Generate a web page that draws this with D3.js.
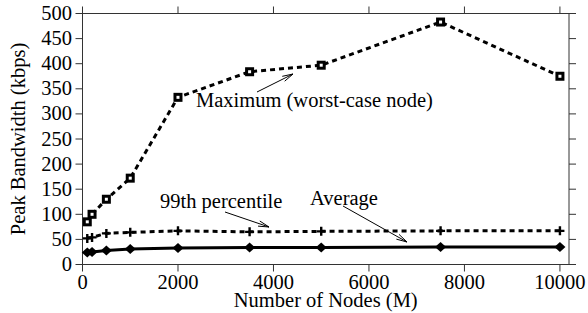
<!DOCTYPE html>
<html><head><meta charset="utf-8">
<script src="https://cdn.jsdelivr.net/npm/d3@7"></script>
<style>body{margin:0;background:#fff}svg{display:block}svg text{font-family:"Liberation Serif",serif !important}</style>
</head><body><svg id="c" width="588" height="313" style="font-family:'Liberation Serif',serif"></svg>
<script>
const nodes = [100, 200, 500, 1000, 2000, 3500, 5000, 7500, 10000];
const maxBw = [85, 100, 130, 172, 333, 384, 397, 483, 375];
const p99Bw = [52, 54, 62, 64, 67, 65, 66, 67, 67];
const avgBw = [24, 25, 28, 31, 33, 34, 34, 35, 35];
const xTicks = [0, 2000, 4000, 6000, 8000, 10000];
const yTicks = [0, 50, 100, 150, 200, 250, 300, 350, 400, 450, 500];
const labels = [
  {text: "Maximum (worst-case node)", x: 196, y: 107, from: [257, 92], to: [293, 74]},
  {text: "99th percentile", x: 160, y: 208, from: [225, 212], to: [269, 227]},
  {text: "Average", x: 310, y: 205, from: [343, 206], to: [407, 242]}
];

const FONT = "Liberation Serif";
const svg = d3.select("#c");
const L = 82.5, R = 569, T = 13.5, B = 264.5;
const x = d3.scaleLinear().domain([0, 10190]).range([L, R]);
const y = d3.scaleLinear().domain([0, 500]).range([B, T]);
const fs = 20.5, tl = 7, axc = "#333";

function txt() {
  return svg.append("text").attr("font-family", FONT).style("font-family", FONT, "important")
    .attr("font-size", fs).attr("fill", "#000");
}
// frame
svg.append("rect").attr("x", L).attr("y", T).attr("width", R - L).attr("height", B - T)
  .attr("fill", "none").attr("stroke", axc).attr("stroke-width", 1);
// ticks
xTicks.forEach(t => {
  svg.append("line").attr("x1", x(t)).attr("x2", x(t)).attr("y1", B).attr("y2", B + tl).attr("stroke", axc);
  svg.append("line").attr("x1", x(t)).attr("x2", x(t)).attr("y1", T).attr("y2", T - tl).attr("stroke", axc);
  txt().attr("x", x(t)).attr("y", 289).attr("text-anchor", "middle").text(String(t));
});
yTicks.forEach(t => {
  svg.append("line").attr("x1", L).attr("x2", L - tl).attr("y1", y(t)).attr("y2", y(t)).attr("stroke", axc);
  svg.append("line").attr("x1", R).attr("x2", R + tl).attr("y1", y(t)).attr("y2", y(t)).attr("stroke", axc);
  txt().attr("x", 72).attr("y", y(t) + 6.5).attr("text-anchor", "end").text(String(t));
});
txt().attr("x", (L + R) / 2).attr("y", 307).attr("text-anchor", "middle").text("Number of Nodes (M)");
txt().attr("transform", `translate(25,${(T + B) / 2}) rotate(-90)`).attr("text-anchor", "middle").text("Peak Bandwidth (kbps)");

const line = d3.line().x(d => x(d[0])).y(d => y(d[1]));
function series(vals, dash) {
  svg.append("path").datum(nodes.map((n, i) => [n, vals[i]])).attr("d", line)
    .attr("fill", "none").attr("stroke", "#000").attr("stroke-width", 3)
    .attr("stroke-dasharray", dash ? "5,4" : null);
}
series(maxBw, true);
series(p99Bw, true);
series(avgBw, false);

// markers
nodes.forEach((n, i) => {
  const mx = x(n), my = y(maxBw[i]);
  svg.append("rect").attr("x", mx - 4.5).attr("y", my - 4.5).attr("width", 9).attr("height", 9).attr("fill", "#000");
  svg.append("rect").attr("x", mx - 1.5).attr("y", my - 1.5).attr("width", 3).attr("height", 3).attr("fill", "#fff");
  const px = x(n), py = y(p99Bw[i]);
  svg.append("path").attr("d", `M${px - 4.5},${py}H${px + 4.5}M${px},${py - 4.5}V${py + 4.5}`)
    .attr("stroke", "#000").attr("stroke-width", 2.4);
  const ax = x(n), ay = y(avgBw[i]);
  svg.append("path").attr("d", `M${ax - 5.5},${ay}L${ax},${ay - 5}L${ax + 5.5},${ay}L${ax},${ay + 5}Z`).attr("fill", "#000");
});

// labels with arrows
labels.forEach(l => {
  txt().attr("x", l.x).attr("y", l.y).text(l.text);
  const [x1, y1] = l.from, [x2, y2] = l.to;
  svg.append("line").attr("x1", x1).attr("y1", y1).attr("x2", x2).attr("y2", y2).attr("stroke", "#000").attr("stroke-width", 1);
  const a = Math.atan2(y2 - y1, x2 - x1), h = 11, w = 0.25;
  svg.append("path").attr("d", `M${x2 - h * Math.cos(a - w)},${y2 - h * Math.sin(a - w)}L${x2},${y2}L${x2 - h * Math.cos(a + w)},${y2 - h * Math.sin(a + w)}`)
    .attr("fill", "none").attr("stroke", "#000").attr("stroke-width", 1);
});
</script></body></html>
